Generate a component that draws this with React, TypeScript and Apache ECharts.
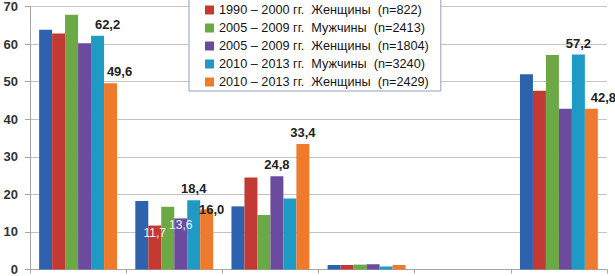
import React, { useEffect, useRef } from "react";
import * as echarts from "echarts";

const categories = ["1", "2", "3", "4", "5", "6"];
const periods = ["1990 – 2000", "1990 – 2000", "2005 – 2009", "2005 – 2009", "2010 – 2013", "2010 – 2013"];
const sexes = ["Мужчины", "Женщины", "Мужчины", "Женщины", "Мужчины", "Женщины"];
const counts = ["", "822", "2413", "1804", "3240", "2429"];
const colors = ["#2d62ad", "#c23a33", "#6ca843", "#6a4b9e", "#1f9ac4", "#ee7b2d"];

const men1990 = [63.8, 18.2, 16.8, 1.2, null, 52.0];
const women1990 = [62.8, 11.7, 24.5, 1.2, null, 47.6];
const men2005 = [67.8, 16.7, 14.5, 1.3, null, 57.1];
const women2005 = [60.2, 13.6, 24.8, 1.4, null, 42.8];
const men2010 = [62.2, 18.4, 18.9, 0.8, null, 57.2];
const women2010 = [49.6, 16.0, 33.4, 1.2, null, 42.8];
const seriesValues = [men1990, women1990, men2005, women2005, men2010, women2010];

const yTicks = [0, 10, 20, 30, 40, 50, 60, 70];

// [series index, category index, inside?, x offset, y offset]
const labelled: [number, number, boolean, number, number][] = [
  [4, 0, false, 10, 0],
  [5, 0, false, 9, 0],
  [1, 1, true, 0, 0],
  [3, 1, true, 1, 0],
  [4, 1, false, 0, 0],
  [5, 1, false, 5, 12],
  [3, 2, false, 0, 0],
  [5, 2, false, 0, 0],
  [4, 5, false, 0, 0],
  [5, 5, false, 12, 0],
];

const fmt = (v: number) => v.toFixed(1).replace(".", ",");

export default function App() {
  const ref = useRef<HTMLDivElement>(null);
  useEffect(() => {
    if (!ref.current) return;
    const chart = echarts.init(ref.current, undefined, { renderer: "svg" });
    const names = periods.map((p, i) =>
      counts[i] ? `${p} гг.  ${sexes[i]}  (n=${counts[i]})` : `${p} гг.  ${sexes[i]}`
    );
    const series = seriesValues.map((vals, si) => ({
      type: "bar",
      name: names[si],
      barGap: "0%",
      barCategoryGap: "19%",
      itemStyle: { color: colors[si] },
      data: vals.map((v, ci) => {
        const l = labelled.find((x) => x[0] === si && x[1] === ci);
        if (!l || v === null) return v;
        return {
          value: v,
          label: l[2]
            ? {
                show: true,
                position: "insideTop",
                distance: 1,
                color: "#f4f4f4",
                fontSize: 12,
                fontWeight: "normal",
                fontFamily: "Liberation Sans",
                formatter: () => fmt(v),
              }
            : {
                show: true,
                position: "top",
                distance: 5,
                offset: [l[3], l[4]],
                color: "#222",
                fontSize: 13,
                fontWeight: "bold",
                fontFamily: "Liberation Sans",
                formatter: () => fmt(v),
              },
        };
      }),
    }));
    chart.setOption({
      animation: false,
      grid: { left: 30, right: 8, top: 5, bottom: 5, containLabel: false },
      legend: {
        data: names.slice(1),
        orient: "vertical",
        left: 189,
        top: -20,
        padding: [23, 12, 2, 16],
        itemWidth: 9,
        itemHeight: 9,
        itemGap: 4,
        icon: "rect",
        backgroundColor: "#fff",
        borderColor: "#8ea2c8",
        borderWidth: 1,
        textStyle: {
          fontSize: 12.7,
          lineHeight: 14,
          color: "#151515",
          fontFamily: "Liberation Sans",
        },
      },
      xAxis: {
        type: "category",
        data: categories,
        axisLine: { lineStyle: { color: "#a6a6a6" } },
        axisTick: { show: true, length: 4, lineStyle: { color: "#a6a6a6" } },
        axisLabel: { show: false },
      },
      yAxis: {
        type: "value",
        min: yTicks[0],
        max: yTicks[yTicks.length - 1],
        interval: 10,
        axisLine: { show: true, lineStyle: { color: "#a6a6a6" } },
        axisTick: { show: true, length: 5, lineStyle: { color: "#a6a6a6" } },
        splitLine: { lineStyle: { color: "#c4c4c4" } },
        axisLabel: {
          margin: 12,
          fontSize: 13,
          fontWeight: "bold",
          color: "#333",
          fontFamily: "Liberation Sans",
        },
      },
      series,
    });
    return () => chart.dispose();
  }, []);
  return <div ref={ref} style={{ width: 615, height: 276, position: "absolute", left: 0, top: 0 }} />;
}
